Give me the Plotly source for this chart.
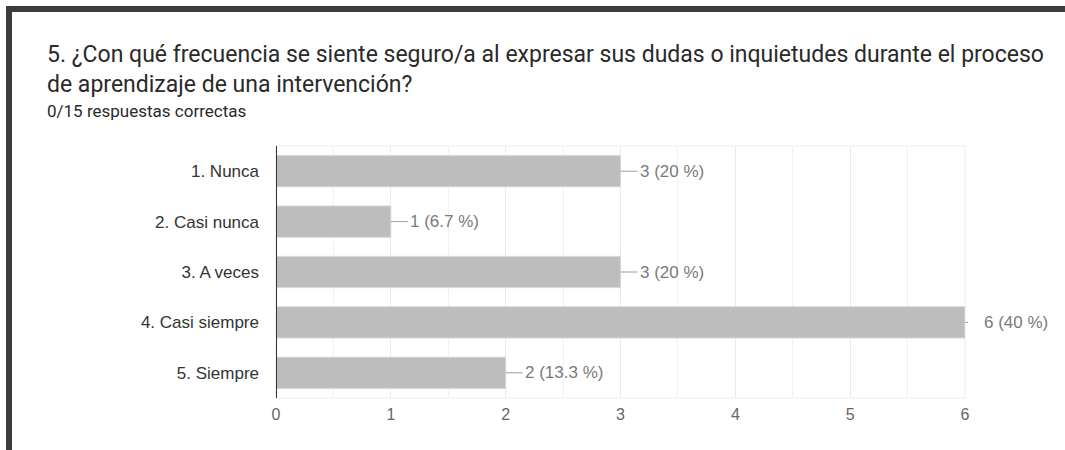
import plotly.graph_objects as go

# Survey question results
categories = ["1. Nunca", "2. Casi nunca", "3. A veces", "4. Casi siempre", "5. Siempre"]
counts = [3, 1, 3, 6, 2]
total_responses = 15
x_ticks = [0, 1, 2, 3, 4, 5, 6]

title_line1 = "5. ¿Con qué frecuencia se siente seguro/a al expresar sus dudas o inquietudes durante el proceso"
title_line2 = "de aprendizaje de una intervención?"
subtitle = "0/15 respuestas correctas"

W, H = 1065, 450
L, R, T, B = 276, 965, 146, 398  # plot area in pixels


def px_x(p):
    return (p - L) / (R - L)


def px_y(p):
    return (B - p) / (B - T)


labels = []
for c in counts:
    pct = round(c / total_responses * 100, 1)
    labels.append(f"{c} ({pct:g} %)")

fig = go.Figure(
    go.Bar(
        x=counts,
        y=categories,
        orientation="h",
        marker=dict(color="#bdbdbd", line=dict(color="#d6d6d6", width=1)),
        width=0.62,
        hoverinfo="skip",
    )
)

annotations = []
max_c = max(counts)
for c, cat, lab in zip(counts, categories, labels):
    annotations.append(dict(
        x=c, y=cat, xref="x", yref="y",
        text=lab, showarrow=True, arrowhead=0, arrowwidth=1,
        arrowcolor="#9e9e9e", ax=17, ay=0, xanchor="left", yanchor="middle",
        startstandoff=14 if c == max_c else 0,
        font=dict(family="Liberation Sans, Arial", size=17, color="#7a7a7a"),
    ))

# Header text
annotations += [
    dict(x=px_x(45), y=px_y(55), xref="paper", yref="paper", text=title_line1,
         showarrow=False, xanchor="left", yanchor="middle",
         font=dict(family="Roboto", size=23, color="#2a2a2a")),
    dict(x=px_x(45), y=px_y(84), xref="paper", yref="paper", text=title_line2,
         showarrow=False, xanchor="left", yanchor="middle",
         font=dict(family="Roboto", size=23, color="#2a2a2a")),
    dict(x=px_x(45), y=px_y(111), xref="paper", yref="paper", text=subtitle,
         showarrow=False, xanchor="left", yanchor="middle",
         font=dict(family="Roboto", size=17, color="#2a2a2a")),
]

frame_color = "#3d3d3d"
shapes = [
    # top border of the card
    dict(type="rect", xref="paper", yref="paper", x0=px_x(6), x1=px_x(W + 5),
         y0=px_y(12), y1=px_y(6), fillcolor=frame_color, line=dict(width=0), layer="above"),
    # left border of the card
    dict(type="rect", xref="paper", yref="paper", x0=px_x(6), x1=px_x(12),
         y0=px_y(H + 5), y1=px_y(6), fillcolor=frame_color, line=dict(width=0), layer="above"),
    # plot box outline
    dict(type="rect", xref="paper", yref="paper", x0=0, x1=1, y0=0, y1=1,
         line=dict(color="#ebebeb", width=1), layer="below"),
    # baseline at zero
    dict(type="line", xref="x", yref="paper", x0=0, x1=0, y0=0, y1=1.0,
         line=dict(color="#333333", width=2), layer="above"),
]

fig.update_layout(
    width=W, height=H,
    margin=dict(l=L, r=W - R, t=T, b=H - B, pad=0),
    paper_bgcolor="white", plot_bgcolor="white",
    showlegend=False,
    annotations=annotations,
    shapes=shapes,
    bargap=0.38,
    xaxis=dict(
        range=[0, 6], tickvals=x_ticks, ticktext=[str(v) for v in x_ticks],
        showgrid=True, gridcolor="#ebebeb", gridwidth=1,
        minor=dict(dtick=0.5, showgrid=True, gridcolor="#f0f0f0", gridwidth=1),
        zeroline=False, showline=False, ticks="",
        tickfont=dict(family="Liberation Sans, Arial", size=16, color="#666666"),
        ticklabelstandoff=5, fixedrange=True,
    ),
    yaxis=dict(
        autorange="reversed", showgrid=False, zeroline=False, showline=False,
        ticks="", tickfont=dict(family="Liberation Sans, Arial", size=17, color="#333333"),
        ticklabelstandoff=16, fixedrange=True,
    ),
)

fig.write_html("out.html", config={"displayModeBar": False})
